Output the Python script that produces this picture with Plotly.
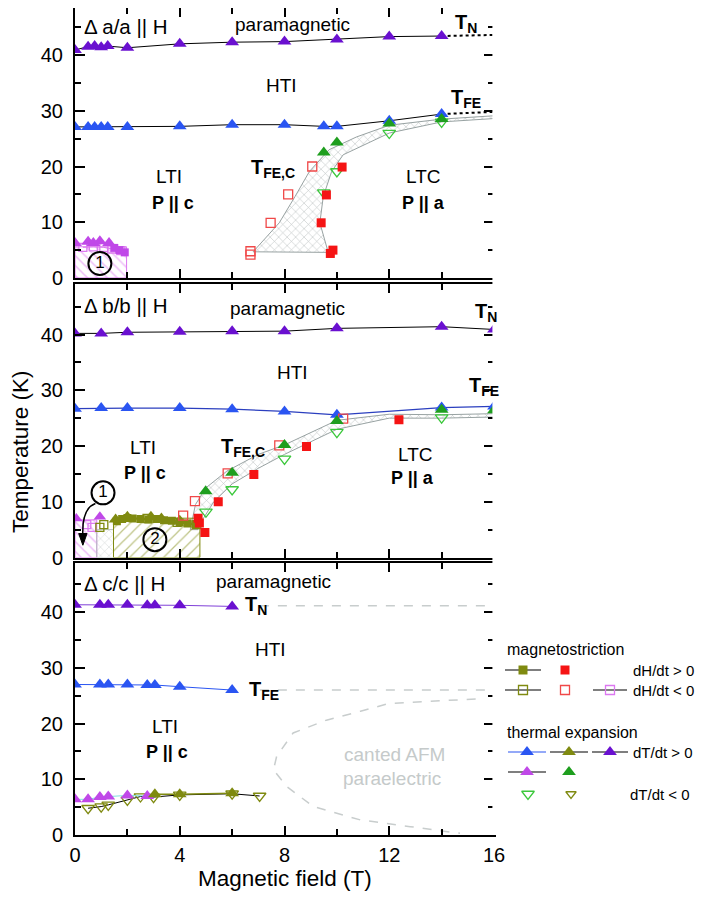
import plotly.graph_objects as go

# ======================= DATA =======================
# ---- panel a : Delta a/a || H (top) ----
a_TN_H = [0, 0.5, 0.75, 1.0, 1.25, 2, 4, 6, 8, 10, 12, 14]
a_TN_T = [40.9, 41.5, 41.6, 41.4, 41.6, 41.3, 42.0, 42.3, 42.4, 42.8, 43.3, 43.4]
a_TN_ext_H = [14, 16]
a_TN_ext_T = [43.4, 43.6]
a_TFE_H = [0, 0.5, 0.75, 1.0, 1.25, 2, 4, 6, 8, 9.5, 10, 12, 14]
a_TFE_T = [27.1, 27.1, 27.1, 27.1, 27.1, 27.1, 27.2, 27.5, 27.5, 27.2, 27.2, 28.2, 29.4]
a_TFE_ext_H = [14, 16]
a_TFE_ext_T = [29.4, 29.8]
a_green_up_H = [9.5, 10, 12, 14]
a_green_up_T = [22.5, 24.3, 27.7, 28.5]
a_green_dn_H = [9.5, 10, 12, 14]
a_green_dn_T = [15.3, 19.1, 26.0, 28.0]
a_red_up_H = [9.75, 9.85, 9.4, 9.6, 10.2]
a_red_up_T = [4.4, 5.0, 9.9, 14.9, 19.9]
a_red_dn_H = [6.7, 6.7, 7.47, 8.14, 9.06]
a_red_dn_T = [4.2, 4.8, 9.9, 15.0, 20.0]
a_band_up_H = [6.8, 7.8, 8.4, 8.95, 9.7, 10.75, 12, 14, 16]
a_band_up_T = [4.7, 9.9, 14.6, 19.1, 23.0, 25.3, 27.4, 28.5, 29.1]
a_band_lo_H = [16, 14, 12, 10.24, 9.8, 9.48, 9.35, 9.67]
a_band_lo_T = [28.6, 28.0, 26.0, 22.1, 19.1, 14.6, 9.9, 4.6]
a_pink_box_H = [0, 1.97, 1.97, 0, 0]
a_pink_box_T = [0, 0, 5.6, 5.6, 0]
a_pink_up_H = [0, 0.5, 0.7, 0.95, 1.3]
a_pink_up_T = [6.3, 6.5, 6.3, 6.6, 6.3]
a_pink_sq_H = [1.5, 1.7, 1.9]
a_pink_sq_T = [5.4, 5.0, 4.6]
a_pink_osq_H = [0.3, 0.7, 1.1, 1.4, 1.75]
a_pink_osq_T = [5.5, 5.6, 5.5, 5.2, 4.9]

# ---- panel b : Delta b/b || H (middle) ----
b_TN_H = [0, 1, 2, 4, 6, 8, 10, 14, 16]
b_TN_T = [40.2, 40.2, 40.4, 40.5, 40.6, 40.6, 41.1, 41.4, 40.9]
b_TFE_H = [0, 1, 2, 4, 6, 8, 10, 14, 16]
b_TFE_T = [26.7, 26.8, 26.8, 26.8, 26.6, 26.2, 25.6, 26.9, 27.1]
b_green_up_H = [4.99, 6.0, 8.0, 10, 14, 16]
b_green_up_T = [11.9, 15.2, 20.2, 24.5, 26.5, 26.4]
b_green_dn_H = [5.0, 6, 8, 10, 14]
b_green_dn_T = [8.2, 12.2, 17.7, 22.5, 25.1]
b_red_up_H = [4.96, 4.75, 4.7, 5.47, 6.83, 8.84, 12.37]
b_red_up_T = [4.5, 6.2, 7.05, 10.0, 14.9, 19.9, 24.7]
b_red_dn_H = [4.13, 4.58, 5.83, 7.8, 10.24]
b_red_dn_T = [7.5, 10.1, 15.1, 20.1, 24.9]
b_band_up_H = [4.4, 4.6, 5.0, 5.8, 7.0, 8.0, 10.0, 12.0, 14.0, 16.0]
b_band_up_T = [5.0, 9.5, 12.5, 15.5, 18.5, 20.2, 24.6, 25.7, 25.6, 25.8]
b_band_lo_H = [16, 14, 12, 10, 8, 7, 6, 5.3, 4.9, 4.7]
b_band_lo_T = [25.2, 25.0, 25.0, 23.0, 18.5, 16.0, 13.2, 10.0, 7.0, 5.0]
b_pink_box_H = [0, 0.83, 0.83, 0, 0]
b_pink_box_T = [0, 0, 6.75, 6.75, 0]
b_gray_box_H = [0.83, 1.47, 1.47, 0.83, 0.83]
b_gray_box_T = [0, 0, 5.0, 5.0, 0]
b_olive_box_H = [1.47, 4.77, 4.77, 1.47, 1.47]
b_olive_box_T = [0, 0, 7.05, 7.05, 0]
b_pink_up_H = [0.05, 0.95]
b_pink_up_T = [7.0, 7.3]
b_pink_osq_H = [0.45, 0.65]
b_pink_osq_T = [5.9, 5.4]
b_olive_osq_H = [0.95, 1.1, 2.75, 3.9, 4.65]
b_olive_osq_T = [5.4, 5.9, 7.0, 6.3, 5.9]
b_olive_sq_H = [1.6, 1.8, 2.0, 2.2, 2.5, 2.8, 3.1, 3.4, 3.7, 4.0, 4.3, 4.6]
b_olive_sq_T = [6.5, 6.9, 7.1, 7.0, 6.9, 6.8, 6.9, 6.7, 6.6, 6.3, 6.1, 5.9]
b_olive_up_H = [1.55, 2.0, 2.9, 3.3, 4.0]
b_olive_up_T = [6.8, 7.3, 7.3, 7.0, 6.6]

# ---- panel c : Delta c/c || H (bottom) ----
c_H = [0, 0.95, 1.27, 2.0, 2.76, 3.05, 4.0, 6.0]
c_TN_T = [41.3, 41.3, 41.3, 41.3, 41.2, 41.2, 41.2, 41.0]
c_TFE_T = [27.0, 27.0, 27.0, 27.0, 26.9, 26.9, 26.6, 26.0]
c_TN_ext_H = [7.06, 16]
c_TN_ext_T = [41.1, 41.1]
c_TFE_ext_H = [7.06, 16]
c_TFE_ext_T = [26.0, 26.0]
c_cant_H = [15.3, 13.4, 12.0, 10.9, 9.6, 8.33, 7.7, 7.58, 8.08, 9.1, 10.9, 12.8, 14.7]
c_cant_T = [24.4, 24.0, 23.6, 22.2, 20.6, 18.3, 14.1, 11.7, 8.7, 5.1, 2.7, 1.5, 0.3]
c_pink_up_H = [0, 0.5, 0.95, 1.27, 2.0, 2.76]
c_pink_up_T = [6.4, 6.4, 6.8, 6.9, 7.1, 7.0]
c_olive_up_H = [3.05, 4.0, 6.0]
c_olive_up_T = [7.3, 7.3, 7.5]
c_olive_dn_H = [0.5, 1.0, 1.27, 2.0, 2.5, 3.0, 4.0, 6.0, 7.05]
c_olive_dn_T = [4.8, 5.1, 5.4, 6.3, 6.9, 6.8, 7.2, 7.4, 7.0]

x_major = [0, 4, 8, 12, 16]
y_major = [0, 10, 20, 30, 40]

# ======================= STYLE =======================
PURPLE = '#6a10d0'
BLUE = '#2a55f2'
NAVY = '#2b3fbf'
GREEN = '#1e9e1e'
GREEN_O = '#3cc83c'
RED = '#f51414'
RED_O = '#f04848'
OLIVE = '#7f8a10'
PINK = '#c048e8'
PINK_H = '#dc78f0'
GRAY_H = '#7a8585'
DGRAY = '#c8cdcd'
FONT = 'Liberation Sans, Arial, sans-serif'

fig = go.Figure()

def ax(p):
    return dict(xaxis='x' if p == 1 else 'x%d' % p, yaxis='y' if p == 1 else 'y%d' % p)

def line(p, H, T, color, width=1, dash='solid'):
    fig.add_trace(go.Scatter(x=H, y=T, mode='lines', line=dict(color=color, width=width, dash=dash),
                             showlegend=False, hoverinfo='skip', **ax(p)))

def mk(p, H, T, symbol, color, size, lw=1.3, mode='markers', lcolor=None, lwidth=1):
    open_ = symbol.endswith('-open')
    kw = {}
    if mode != 'markers':
        kw['line'] = dict(color=lcolor or color, width=lwidth)
    fig.add_trace(go.Scatter(x=H, y=T, mode=mode,
                             marker=dict(symbol=symbol, size=size, color=color,
                                         line=dict(color=color, width=lw if open_ else 0)),
                             showlegend=False, hoverinfo='skip', **kw, **ax(p)))

def hatch(p, H, T, shape, color, lcolor, size=7, sol=0.12, lw=1):
    fig.add_trace(go.Scatter(x=H, y=T, mode='lines', fill='toself', fillcolor='rgba(0,0,0,0)',
                             fillpattern=dict(shape=shape, fgcolor=color, bgcolor='rgba(255,255,255,0)',
                                              size=size, solidity=sol),
                             line=dict(color=lcolor, width=lw), showlegend=False, hoverinfo='skip', **ax(p)))

# ---------- panel a (p=3, top) ----------
P = 3
hatch(P, a_band_up_H + a_band_lo_H + a_band_up_H[:1], a_band_up_T + a_band_lo_T + a_band_up_T[:1],
      'x', GRAY_H, '#98a2a2', size=6, sol=0.18)
hatch(P, a_pink_box_H, a_pink_box_T, '\\', PINK_H, PINK_H, size=7, sol=0.22)
line(P, a_TN_H, a_TN_T, 'black', 1)
line(P, a_TN_ext_H, a_TN_ext_T, 'black', 2, 'dot')
line(P, a_TFE_H, a_TFE_T, 'black', 1)
line(P, a_TFE_ext_H, a_TFE_ext_T, 'black', 2, 'dot')
mk(P, a_TN_H, a_TN_T, 'triangle-up', PURPLE, 12)
mk(P, a_TFE_H, a_TFE_T, 'triangle-up', BLUE, 12)
mk(P, a_pink_osq_H, a_pink_osq_T, 'square-open', PINK_H, 8, mode='lines+markers', lcolor=PINK_H)
mk(P, a_pink_sq_H, a_pink_sq_T, 'square', PINK, 8)
mk(P, a_pink_up_H, a_pink_up_T, 'triangle-up', PINK, 12)
mk(P, a_green_dn_H, a_green_dn_T, 'triangle-down-open', GREEN_O, 11)
mk(P, a_green_up_H, a_green_up_T, 'triangle-up', GREEN, 12)
mk(P, a_red_dn_H, a_red_dn_T, 'square-open', RED_O, 9)
mk(P, a_red_up_H, a_red_up_T, 'square', RED, 9)

# ---------- panel b (p=2, middle) ----------
P = 2
hatch(P, b_band_up_H + b_band_lo_H + b_band_up_H[:1], b_band_up_T + b_band_lo_T + b_band_up_T[:1],
      'x', GRAY_H, '#98a2a2', size=6, sol=0.18)
hatch(P, b_pink_box_H, b_pink_box_T, '\\', PINK_H, PINK_H, size=7, sol=0.22)
hatch(P, b_gray_box_H, b_gray_box_T, 'x', '#a0a8a8', '#b8c0c0', size=6, sol=0.16)
hatch(P, b_olive_box_H, b_olive_box_T, '/', OLIVE, OLIVE, size=8, sol=0.16)
line(P, b_TN_H, b_TN_T, 'black', 1)
line(P, b_TFE_H, b_TFE_T, NAVY, 1.2)
mk(P, b_TN_H, b_TN_T, 'triangle-up', PURPLE, 12)
mk(P, b_TFE_H, b_TFE_T, 'triangle-up', BLUE, 12)
mk(P, b_pink_osq_H, b_pink_osq_T, 'square-open', PINK_H, 8)
mk(P, b_pink_up_H, b_pink_up_T, 'triangle-up', PINK, 11)
mk(P, b_olive_osq_H, b_olive_osq_T, 'square-open', OLIVE, 8)
mk(P, b_olive_sq_H, b_olive_sq_T, 'square', OLIVE, 8, mode='lines+markers', lcolor=OLIVE, lwidth=2)
mk(P, b_olive_up_H, b_olive_up_T, 'triangle-up', OLIVE, 12)
mk(P, b_green_dn_H, b_green_dn_T, 'triangle-down-open', GREEN_O, 11)
mk(P, b_red_dn_H, b_red_dn_T, 'square-open', RED_O, 9)
mk(P, b_green_up_H, b_green_up_T, 'triangle-up', GREEN, 12)
mk(P, b_red_up_H, b_red_up_T, 'square', RED, 9)

# ---------- panel c (p=1, bottom) ----------
P = 1
line(P, c_TN_ext_H, c_TN_ext_T, DGRAY, 1.5, 'dash')
line(P, c_TFE_ext_H, c_TFE_ext_T, DGRAY, 1.5, 'dash')
line(P, c_cant_H, c_cant_T, DGRAY, 1.5, 'dash')
mk(P, c_H, c_TN_T, 'triangle-up', PURPLE, 12, mode='lines+markers', lcolor='#8040d8', lwidth=1)
mk(P, c_H, c_TFE_T, 'triangle-up', BLUE, 12, mode='lines+markers', lcolor=BLUE, lwidth=1)
line(P, c_olive_dn_H, c_olive_dn_T, 'black', 1)
mk(P, c_olive_dn_H, c_olive_dn_T, 'triangle-down-open', OLIVE, 11)
mk(P, c_pink_up_H, c_pink_up_T, 'triangle-up', PINK, 12, mode='lines+markers', lcolor='#80e0e0', lwidth=1)
mk(P, c_olive_up_H, c_olive_up_T, 'triangle-up', OLIVE, 12, mode='lines+markers', lcolor=OLIVE, lwidth=1.5)

# ======================= LAYOUT =======================
# page offset: the html body adds an 8 px margin around the figure (on every side)
OFF = 8
W, Hh = 706 - 2 * OFF, 899 - 2 * OFF
PLOT_TOP, PLOT_BOT, PLOT_RIGHT = 8, 835, 706 - OFF     # page coords of the plotting area
ML, MR = 75 - OFF, 0
MT = PLOT_TOP - OFF
MB = Hh - (PLOT_BOT - OFF)
PW, PH = W - ML - MR, Hh - MT - MB
def py(page_y):
    return (PLOT_BOT - page_y) / PH
xdom = [0, (494 - 75) / PW]
ydoms = {1: [0, py(563)], 2: [py(557.5), py(284)], 3: [py(278), 1.0]}
SCALE = 5.575   # px per K
ytop = {1: (835 - 563) / SCALE, 2: (557.5 - 284) / SCALE, 3: (278 - 8) / SCALE}

layout = dict(width=W, height=Hh, margin=dict(l=ML, r=MR, t=MT, b=MB, autoexpand=False),
              plot_bgcolor='white', paper_bgcolor='white', showlegend=False,
              font=dict(family=FONT, color='black', size=18))
for p in (1, 2, 3):
    xn = 'xaxis' if p == 1 else 'xaxis%d' % p
    yn = 'yaxis' if p == 1 else 'yaxis%d' % p
    layout[xn] = dict(domain=xdom, anchor='y' if p == 1 else 'y%d' % p, range=[0, 16],
                      tickvals=x_major, showticklabels=(p == 1), automargin=False,
                      ticks='inside', ticklen=9, tickwidth=1.5, tickcolor='black', mirror='allticks',
                      showline=True, linecolor='black', linewidth=2, showgrid=False, zeroline=False,
                      minor=dict(tickvals=[2, 6, 10, 14], ticks='inside', ticklen=6, tickwidth=1.5, tickcolor='black', showgrid=False),
                      tickfont=dict(size=20), ticklabelstandoff=1)
    layout[yn] = dict(domain=ydoms[p], anchor='x' if p == 1 else 'x%d' % p, range=[0, ytop[p]],
                      tickvals=y_major, ticks='inside', ticklen=10, tickwidth=1.5, tickcolor='black',
                      mirror='allticks', showline=True, linecolor='black', linewidth=2, automargin=False,
                      showgrid=False, zeroline=False,
                      minor=dict(tickvals=[5, 15, 25, 35, 45], ticks='inside', ticklen=6, tickwidth=1.5, tickcolor='black', showgrid=False),
                      tickfont=dict(size=20), ticklabelstandoff=6)
# legend axis in page-pixel units
lx0 = 75 + 0.67 * PW
layout['xaxis4'] = dict(domain=[0.67, 1.0], range=[lx0, PLOT_RIGHT], anchor='y4', visible=False, fixedrange=True)
layout['yaxis4'] = dict(domain=[0, 1.0], range=[PLOT_BOT, PLOT_TOP], anchor='x4', visible=False, fixedrange=True)
fig.update_layout(**layout)

# ---------- panel texts ----------
def txt(p, x, y, s, size=18, color='black', xanchor='center'):
    fig.add_annotation(x=x, y=y, xref='x' if p == 1 else 'x%d' % p, yref='y' if p == 1 else 'y%d' % p,
                       text=s, showarrow=False, font=dict(size=size, color=color, family=FONT),
                       xanchor=xanchor, yanchor='middle')

TN = '<b>T<sub>N</sub></b>'
TFE = '<b>T<sub>FE</sub></b>'
TFEC = '<b>T<sub>FE,C</sub></b>'
# top
txt(3, 0.25, 45.2, 'Δ a/a || H', 20.5, xanchor='left')
txt(3, 8.3, 45.4, 'paramagnetic', 19)
txt(3, 14.45, 45.7, TN, 20, xanchor='left')
txt(3, 7.9, 34.6, 'HTI', 19)
txt(3, 14.3, 32.2, TFE, 20, xanchor='left')
txt(3, 7.55, 19.7, TFEC, 20)
txt(3, 3.6, 18.2, 'LTI', 19)
txt(3, 3.75, 13.4, '<b>P || c</b>', 18)
txt(3, 13.3, 18.2, 'LTC', 19)
txt(3, 13.3, 13.5, '<b>P || a</b>', 18)
# middle
txt(2, 0.25, 45.2, 'Δ b/b || H', 20.5, xanchor='left')
txt(2, 8.1, 44.6, 'paramagnetic', 19)
txt(2, 15.2, 44.0, TN, 20, xanchor='left')
txt(2, 8.3, 33.2, 'HTI', 19)
txt(2, 14.95, 30.6, TFE, 20, xanchor='left')
txt(2, 6.4, 19.8, TFEC, 20)
txt(2, 2.6, 19.8, 'LTI', 19)
txt(2, 2.67, 15.2, '<b>P || c</b>', 18)
txt(2, 13.0, 18.5, 'LTC', 19)
txt(2, 12.9, 14.2, '<b>P || a</b>', 18)
# bottom
txt(1, 0.25, 45.2, 'Δ c/c || H', 20.5, xanchor='left')
txt(1, 7.57, 45.5, 'paramagnetic', 19)
txt(1, 6.4, 41.1, TN, 20, xanchor='left')
txt(1, 7.47, 33.3, 'HTI', 19)
txt(1, 6.55, 26.0, TFE, 20, xanchor='left')
txt(1, 3.44, 19.5, 'LTI', 19)
txt(1, 3.5, 14.8, '<b>P || c</b>', 18)
txt(1, 12.2, 14.4, 'canted AFM', 19, '#c5caca')
txt(1, 12.1, 10.1, 'paraelectric', 19, '#c5caca')

# circled numbers
circ = [(3, 0.95, 2.6, '1'), (2, 1.07, 11.6, '1'), (2, 3.05, 3.2, '2')]
for p, x, y, s in circ:
    fig.add_trace(go.Scatter(x=[x], y=[y], mode='markers+text', text=[s], textposition='middle center',
                             textfont=dict(size=17, color='black', family=FONT),
                             marker=dict(symbol='circle-open', size=23, color='black', line=dict(width=2, color='black')),
                             showlegend=False, hoverinfo='skip', cliponaxis=False, **ax(p)))
# curved arrow in middle panel
fig.add_shape(type='path', xref='x2', yref='y2', path='M 0.78,9.7 Q 0.25,8.8 0.3,3.8',
              line=dict(color='black', width=1.5))
fig.add_shape(type='path', xref='x2', yref='y2', path='M 0.14,4.3 L 0.46,4.3 L 0.3,2.2 Z',
              line=dict(color='black', width=1), fillcolor='black')

# axis titles
fig.add_annotation(x=(20 - 75) / PW, y=py(452), xref='paper', yref='paper', text='Temperature (K)',
                   textangle=-90, showarrow=False, font=dict(size=22.5, family=FONT), xanchor='center', yanchor='middle')
fig.add_annotation(x=8, y=py(878), xref='x', yref='paper', text='Magnetic field (T)',
                   showarrow=False, font=dict(size=22.5, family=FONT), xanchor='center', yanchor='middle')

# ---------- custom legend (page-pixel coordinates on hidden axis 4) ----------
leg_titles = [(505, 649, 'magnetostriction'), (505, 732, 'thermal expansion')]
leg_labels = [(631, 670, 'dH/dt > 0'), (631, 690, 'dH/dt < 0'), (631, 752, 'dT/dt > 0'), (628, 794, 'dT/dt < 0')]
# (x centre, y, symbol, marker colour, size, line colour or None, half line length)
leg_items = [
    (523, 670, 'square', OLIVE, 9, 'black', 18),
    (565, 670, 'square', RED, 9, None, 0),
    (523, 690, 'square-open', OLIVE, 9, 'black', 18),
    (565, 690, 'square-open', RED_O, 9, None, 0),
    (610, 690, 'square-open', PINK_H, 9, 'black', 17),
    (527, 752, 'triangle-up', BLUE, 12, BLUE, 19),
    (569, 752, 'triangle-up', OLIVE, 12, 'black', 19),
    (610, 752, 'triangle-up', PURPLE, 12, 'black', 18),
    (527, 772, 'triangle-up', PINK, 12, 'black', 19),
    (569, 772, 'triangle-up', GREEN, 12, None, 0),
    (528, 794, 'triangle-down-open', GREEN_O, 11, None, 0),
    (571, 794, 'triangle-down-open', OLIVE, 9, None, 0),
]
for x, y, sym, col, sz, lc, hl in leg_items:
    if lc:
        fig.add_trace(go.Scatter(x=[x - hl, x + hl], y=[y, y], mode='lines', line=dict(color=lc, width=1.2),
                                 xaxis='x4', yaxis='y4', showlegend=False, hoverinfo='skip'))
    fig.add_trace(go.Scatter(x=[x], y=[y], mode='markers',
                             marker=dict(symbol=sym, size=sz, color=col,
                                         line=dict(color=col, width=1.3 if sym.endswith('-open') else 0)),
                             xaxis='x4', yaxis='y4', showlegend=False, hoverinfo='skip'))
for x, y, s in leg_titles:
    fig.add_annotation(x=x, y=y, xref='x4', yref='y4', text=s, showarrow=False, xanchor='left', yanchor='middle',
                       font=dict(size=16, family=FONT, color='black'))
for x, y, s in leg_labels:
    fig.add_annotation(x=x, y=y, xref='x4', yref='y4', text=s, showarrow=False, xanchor='left', yanchor='middle',
                       font=dict(size=15, family=FONT, color='black'))

fig.write_html('out.html')
